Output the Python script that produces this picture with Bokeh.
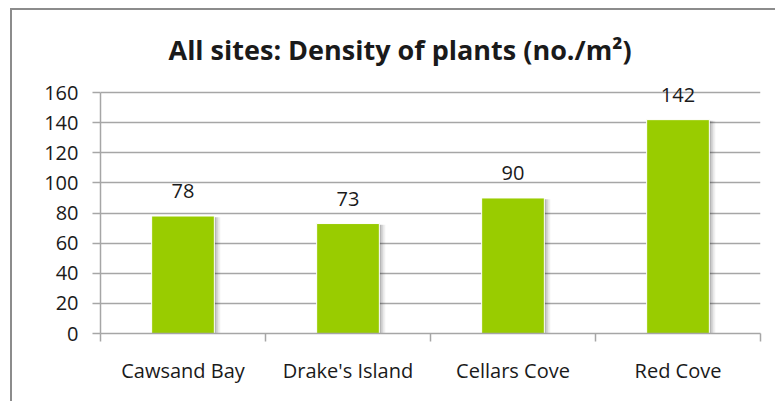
from bokeh.plotting import figure
from bokeh.models import ColumnDataSource, FixedTicker, LabelSet, Range1d
from bokeh.core.properties import value
from bokeh.embed import file_html
from bokeh.resources import INLINE

# Plant density at each survey site (plants per square metre)
sites = ["Cawsand Bay", "Drake's Island", "Cellars Cove", "Red Cove"]
density = [78, 73, 90, 142]
y_ticks = [0, 20, 40, 60, 80, 100, 120, 140, 160]

FONT = "Open Sans"
TEXT = "#1a1a1a"
GRID = "#a6a6a6"

centers = [i + 0.5 for i in range(len(sites))]
src = ColumnDataSource(dict(x=centers, top=density,
                            label=[str(v) for v in density]))

# a little headroom above 160 keeps the top value label from being clipped
p = figure(width=765, height=393, output_backend="svg", toolbar_location=None,
           x_range=Range1d(0, len(sites)), y_range=Range1d(0, 166),
           min_border_left=88, min_border_right=17, min_border_top=73,
           min_border_bottom=70,
           styles={"margin-left": "10px", "margin-top": "8px",
                   "border-left": "2px solid #8c8c8c",
                   "border-top": "2px solid #8c8c8c"})
p.outline_line_color = None
p.background_fill_color = "white"
p.border_fill_color = "white"

# title
p.title.text = "All sites: Density of plants (no./m\u00b2)"
p.title.text_font = FONT
p.title.text_font_size = "27px"
p.title.text_font_style = "bold"
p.title.text_color = TEXT
p.title.align = "left"
p.title.offset = 68
p.title.standoff = 32

# soft drop shadow to the right of each bar
for dx, a in [(0.012, 0.15), (0.024, 0.10), (0.036, 0.06)]:
    p.vbar(x=[c + dx for c in centers], top=[v - 0.8 for v in density],
           bottom=-0.8, width=0.38, fill_color="#000000", fill_alpha=a,
           line_color=None)

p.vbar(x="x", top="top", width=0.38, source=src, fill_color="#99cc00",
       line_color="white", line_width=1)

labels = LabelSet(x="x", y="top", text="label", source=src,
                  text_align="center", text_baseline="alphabetic",
                  y_offset=18, text_font=value(FONT), text_font_size="20px",
                  text_color=TEXT)
p.add_layout(labels)

# axes
p.xaxis.ticker = FixedTicker(ticks=centers, minor_ticks=list(range(len(sites) + 1)))
p.xaxis.major_label_overrides = {c: s for c, s in zip(centers, sites)}
p.xaxis.major_tick_line_color = None
p.xaxis.major_tick_out = 0
p.xaxis.major_tick_in = 0
p.xaxis.minor_tick_out = 8
p.xaxis.minor_tick_in = 0
p.xaxis.minor_tick_line_color = GRID
p.xaxis.minor_tick_line_width = 1.5
p.xaxis.axis_line_color = GRID
p.xaxis.axis_line_width = 1.5
p.xaxis.major_label_standoff = 15
p.xaxis.major_label_text_font = FONT
p.xaxis.major_label_text_font_size = "20px"
p.xaxis.major_label_text_color = TEXT

p.yaxis.ticker = FixedTicker(ticks=y_ticks, minor_ticks=[])
p.yaxis.bounds = (0, 160)
p.yaxis.major_tick_out = 8
p.yaxis.major_tick_in = 0
p.yaxis.major_tick_line_color = GRID
p.yaxis.major_tick_line_width = 1.5
p.yaxis.minor_tick_line_color = None
p.yaxis.axis_line_color = GRID
p.yaxis.axis_line_width = 1.5
p.yaxis.major_label_standoff = 14
p.yaxis.major_label_text_font = FONT
p.yaxis.major_label_text_font_size = "20px"
p.yaxis.major_label_text_color = TEXT

p.xgrid.grid_line_color = None
p.ygrid.grid_line_color = GRID
p.ygrid.grid_line_width = 1.5
p.ygrid.level = "underlay"

open("out.html", "w").write(file_html(p, INLINE))
